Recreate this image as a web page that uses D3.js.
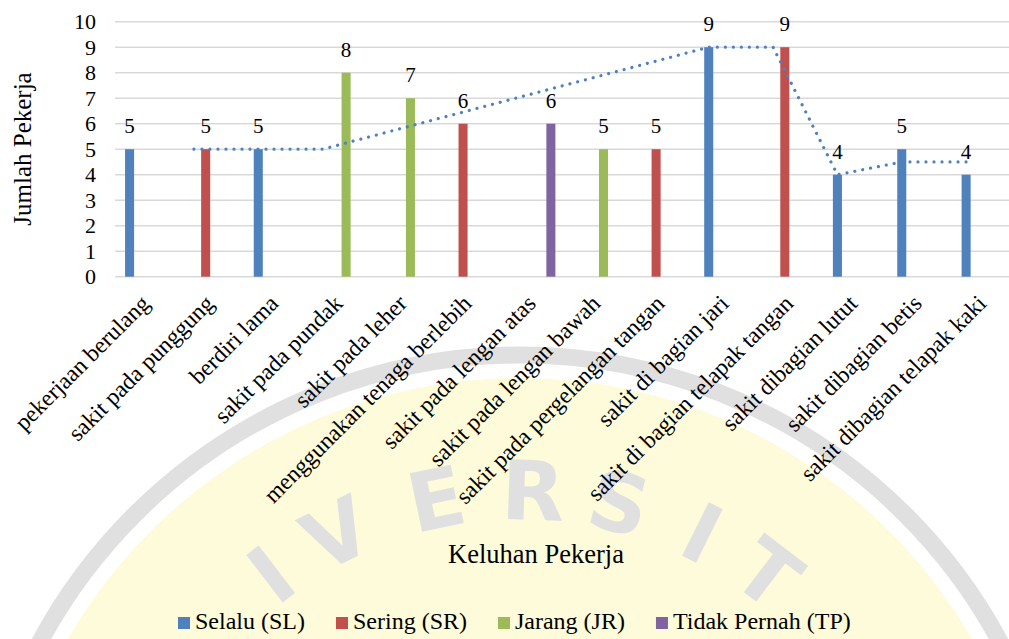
<!DOCTYPE html>
<html>
<head>
<meta charset="utf-8">
<script src="https://cdn.jsdelivr.net/npm/d3@7"></script>
<style>
  body { margin: 0; background: #fff; }
  svg { display: block; }
</style>
</head>
<body>
<svg id="chart" width="1009" height="639"></svg>
<script>
var categories = [
    "pekerjaan berulang", "sakit pada punggung", "berdiri lama", "sakit pada pundak",
    "sakit pada leher", "menggunakan tenaga berlebih", "sakit pada lengan atas",
    "sakit pada lengan bawah", "sakit pada pergelangan tangan", "sakit di bagian jari",
    "sakit di bagian telapak tangan", "sakit dibagian lutut", "sakit dibagian betis",
    "sakit dibagian telapak kaki"
];
var seriesNames = ["Selalu (SL)", "Sering (SR)", "Jarang (JR)", "Tidak Pernah (TP)"];
var selalu      = [5, null, 5, null, null, null, null, null, null, 9, null, 4, 5, 4];
var sering      = [null, 5, null, null, null, 6, null, null, 5, null, 9, null, null, null];
var jarang      = [null, null, null, 8, 7, null, null, 5, null, null, null, null, null, null];
var tidakPernah = [null, null, null, null, null, null, 6, null, null, null, null, null, null, null];
// moving average trendline of the Selalu series
var trendSelalu = [null, 5, 5, 5, null, null, null, null, null, 9, 9, 4, 4.5, 4.5];
var yTicks = [0, 1, 2, 3, 4, 5, 6, 7, 8, 9, 10];
var colors = ["#4f81bd", "#c0504d", "#9bbb59", "#8064a2"];

var FONT = "'Liberation Serif'";
var svg = d3.select("#chart");

// watermark logo in the background
var logo = svg.append("g").attr("class", "watermark");
var logoCx = 520, logoCy = 900;
logo.append("circle")
    .attr("cx", logoCx).attr("cy", logoCy).attr("r", 522)
    .style("fill", "#fdfbda");
logo.append("circle")
    .attr("cx", logoCx).attr("cy", logoCy).attr("r", 545)
    .style("fill", "none")
    .style("stroke", "#e0e0e0")
    .style("stroke-width", 17);
var logoLetters = ["I", "V", "E", "R", "S", "I", "T"];
var logoAngles = [-37.4, -26.6, -11.8, 1.8, 14, 26.4, 37.2];
logo.selectAll(".wm-letter")
    .data(logoLetters)
    .enter().append("text")
    .attr("class", "wm-letter")
    .attr("transform", function (d, i) {
        var a = logoAngles[i] * Math.PI / 180;
        var px = logoCx + 410 * Math.sin(a), py = logoCy - 410 * Math.cos(a);
        return "translate(" + px + "," + py + ") rotate(" + logoAngles[i] + ")";
    })
    .attr("text-anchor", "middle")
    .attr("dy", "0.36em")
    .style("font-family", "'DejaVu Sans'")
    .style("font-weight", "bold")
    .style("font-size", "82px")
    .style("fill", "#e0e0e0")
    .text(function (d) { return d; });

var left = 115, step = 64.35;
var x0 = d3.scaleBand()
    .domain(categories)
    .range([left, left + step * categories.length]);
var x1 = d3.scaleBand()
    .domain(seriesNames)
    .range([8.7, x0.bandwidth() - 8.7])
    .paddingInner(0.23)
    .paddingOuter(0.115);
var y = d3.scaleLinear().domain([0, 10]).range([276.7, 21.7]);

// gridlines
svg.append("g").selectAll("line")
    .data(yTicks)
    .enter().append("line")
    .attr("x1", left).attr("x2", 1009)
    .attr("y1", function (d) { return y(d); })
    .attr("y2", function (d) { return y(d); })
    .style("stroke", "#d9d9d9")
    .style("stroke-width", 1.4);

// y tick labels
var yAxis = svg.append("g")
    .attr("transform", "translate(96,0)")
    .call(d3.axisLeft(y).tickValues(yTicks).tickSize(0).tickPadding(0));
yAxis.attr("font-family", null);
yAxis.select(".domain").remove();
yAxis.selectAll("text")
    .style("font-family", FONT)
    .style("font-size", "22px")
    .style("fill", "#000");

// bars
var allSeries = [selalu, sering, jarang, tidakPernah];
var bars = [];
allSeries.forEach(function (vals, s) {
    vals.forEach(function (v, i) {
        if (v != null) bars.push({ cat: categories[i], series: seriesNames[s], idx: s, value: v });
    });
});

svg.append("g").selectAll("rect")
    .data(bars)
    .enter().append("rect")
    .attr("x", function (d) { return x0(d.cat) + x1(d.series); })
    .attr("y", function (d) { return y(d.value); })
    .attr("width", x1.bandwidth())
    .attr("height", function (d) { return y(0) - y(d.value); })
    .style("fill", function (d) { return colors[d.idx]; });

// data labels
svg.append("g").selectAll("text")
    .data(bars)
    .enter().append("text")
    .attr("x", function (d) { return x0(d.cat) + x1(d.series) + x1.bandwidth() / 2; })
    .attr("y", function (d) { return y(d.value) - 16; })
    .attr("text-anchor", "middle")
    .style("font-family", FONT)
    .style("font-size", "21px")
    .style("fill", "#000")
    .text(function (d) { return d.value; });

// trendline
var trendPts = [];
trendSelalu.forEach(function (v, i) {
    if (v != null) trendPts.push({ cat: categories[i], value: v });
});
var line = d3.line()
    .x(function (d) { return x0(d.cat) + x1(seriesNames[0]) + x1.bandwidth() / 2; })
    .y(function (d) { return y(d.value); });
svg.append("path")
    .datum(trendPts)
    .attr("d", line)
    .style("fill", "none")
    .style("stroke", colors[0])
    .style("stroke-width", 3.2)
    .style("stroke-linecap", "round")
    .style("stroke-dasharray", "0.01 8");

// category labels
svg.append("g").selectAll("text")
    .data(categories)
    .enter().append("text")
    .attr("transform", function (d) {
        return "translate(" + (x0(d) + x0.bandwidth() / 2 - 2) + ",299) rotate(-45)";
    })
    .attr("text-anchor", "end")
    .attr("dy", "0.35em")
    .style("font-family", FONT)
    .style("font-size", "23.5px")
    .style("fill", "#000")
    .text(function (d) { return d; });

// axis titles
svg.append("text")
    .attr("transform", "translate(31,149) rotate(-90)")
    .attr("text-anchor", "middle")
    .style("font-family", FONT)
    .style("font-size", "25px")
    .style("fill", "#000")
    .text("Jumlah Pekerja");
svg.append("text")
    .attr("x", 536).attr("y", 563)
    .attr("text-anchor", "middle")
    .style("font-family", FONT)
    .style("font-size", "26.5px")
    .style("fill", "#000")
    .text("Keluhan Pekerja");

// legend
var legend = svg.append("g");
var lx = 178;
seriesNames.forEach(function (name, i) {
    var item = legend.append("g").attr("transform", "translate(" + lx + ",0)");
    item.append("rect")
        .attr("x", 0).attr("y", 617)
        .attr("width", 12).attr("height", 12)
        .style("fill", colors[i]);
    var t = item.append("text")
        .attr("x", 17).attr("y", 629)
        .style("font-family", FONT)
        .style("font-size", "24px")
        .style("fill", "#000")
        .text(name);
    lx += 17 + t.node().getComputedTextLength() + 31;
});
</script>
</body>
</html>
